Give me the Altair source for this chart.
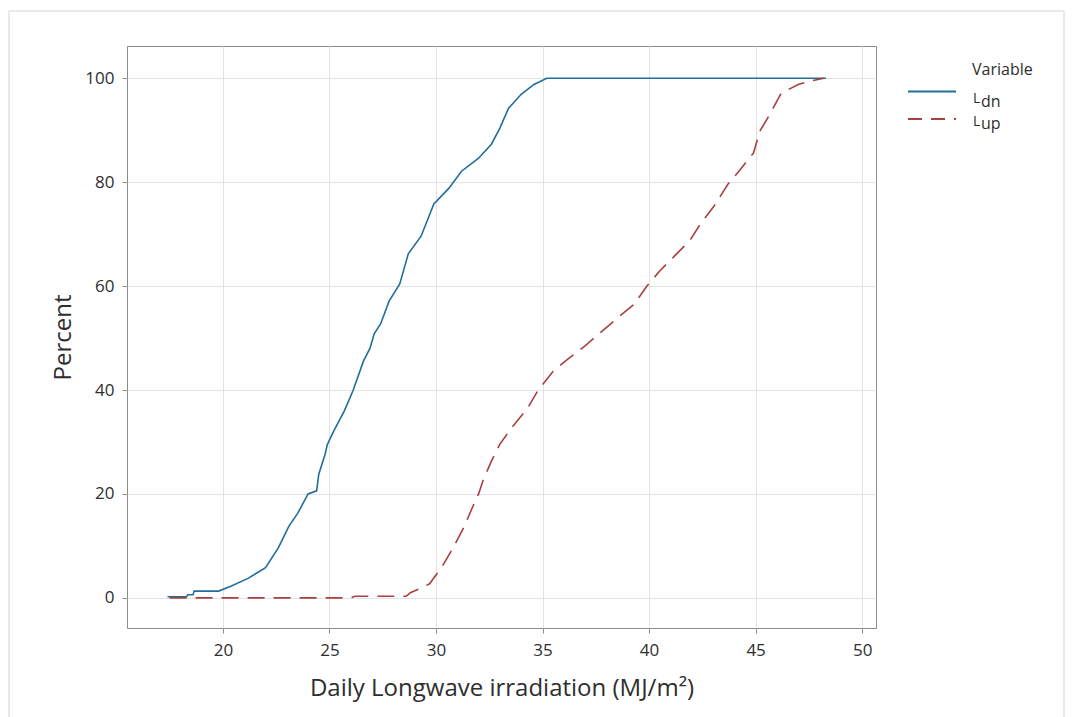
import altair as alt
import pandas as pd

ldn_x = [17.4, 18.3, 18.35, 18.6, 18.65, 19.8, 20.4, 21.2, 22.0, 22.6, 23.1, 23.5, 24.0, 24.4, 24.5,
         24.8, 24.9, 25.2, 25.7, 26.1, 26.6, 26.9, 27.1, 27.4, 27.8, 28.3, 28.7, 29.3, 29.9, 30.6,
         31.2, 32.0, 32.6, 33.0, 33.4, 34.0, 34.6, 35.2, 48.3]
ldn_y = [0.2, 0.2, 0.6, 0.6, 1.3, 1.3, 2.3, 3.8, 5.8, 9.6, 13.8, 16.2, 20.0, 20.6, 23.8,
         27.7, 29.5, 32.1, 36.0, 39.8, 45.6, 48.0, 50.8, 52.7, 57.1, 60.4, 66.2, 69.6, 75.8, 78.8,
         82.1, 84.6, 87.3, 90.4, 94.2, 96.9, 98.8, 100.0, 100.0]

lup_x = [17.5, 26.0, 26.2, 28.6, 28.8, 29.2, 29.7, 30.3, 30.8, 31.3, 31.7, 32.0, 32.2, 32.6, 33.0,
         33.6, 34.3, 34.8, 35.5, 36.2, 37.0, 37.7, 38.5, 39.3, 39.9, 40.5, 41.2, 41.9, 42.4, 43.05,
         43.7, 44.2, 44.9, 45.2, 45.7, 46.2, 47.0, 47.5, 48.2]
lup_y = [0.0, 0.0, 0.3, 0.3, 1.0, 1.7, 2.7, 6.1, 9.6, 13.5, 17.3, 20.0, 22.5, 26.3, 29.6,
         33.0, 36.5, 40.0, 43.6, 46.0, 48.5, 51.0, 53.8, 56.5, 60.0, 62.9, 65.8, 68.7, 71.9, 75.4,
         79.6, 82.0, 85.6, 89.8, 93.3, 97.1, 98.8, 99.4, 100.0]

x_ticks = [20, 25, 30, 35, 40, 45, 50]
y_ticks = [0, 20, 40, 60, 80, 100]

FONT = "Open Sans"
BLUE = "#1f6e9b"
RED = "#a8403f"
TXT = "#2e2e2e"

ldn = pd.DataFrame({"x": ldn_x, "y": ldn_y, "order": range(len(ldn_x))})
lup = pd.DataFrame({"x": lup_x, "y": lup_y, "order": range(len(lup_x))})

xscale = alt.Scale(domain=[15.5, 50.65], nice=False, zero=False)
yscale = alt.Scale(domain=[-5.8, 106.2], nice=False, zero=False)

xaxis = alt.Axis(values=x_ticks, title="Daily Longwave irradiation (MJ/m²)", format="d",
                 labelPadding=9, titlePadding=18)
yaxis = alt.Axis(values=y_ticks, title="Percent", format="d",
                 labelPadding=8, titlePadding=9)

blue = alt.Chart(ldn).mark_line(color=BLUE, strokeWidth=1.6).encode(
    x=alt.X("x:Q", scale=xscale, axis=xaxis),
    y=alt.Y("y:Q", scale=yscale, axis=yaxis),
    order="order:Q",
)
red = alt.Chart(lup).mark_line(color=RED, strokeWidth=1.6, strokeDash=[17, 9]).encode(
    x=alt.X("x:Q", scale=xscale),
    y=alt.Y("y:Q", scale=yscale),
    order="order:Q",
)

one = pd.DataFrame({"k": [0]})

outer = alt.Chart(one).mark_rect(fillOpacity=0, stroke="#d4d4d4", strokeWidth=1).encode(
    x=alt.value(-118), x2=alt.value(937), y=alt.value(-35), y2=alt.value(680)
)

leg_title = alt.Chart(one).mark_text(text="Variable", font=FONT, fontSize=16, color=TXT,
                                     align="left", baseline="middle").encode(
    x=alt.value(845), y=alt.value(24))
leg_blue = alt.Chart(one).mark_rule(color=BLUE, strokeWidth=1.8).encode(
    x=alt.value(781), x2=alt.value(829), y=alt.value(45.5))
leg_red = alt.Chart(one).mark_rule(color=RED, strokeWidth=1.8, strokeDash=[14, 9]).encode(
    x=alt.value(781), x2=alt.value(829), y=alt.value(73))
leg_L1 = alt.Chart(one).mark_text(text="L", font=FONT, fontSize=14, color=TXT,
                                  align="left", baseline="alphabetic").encode(
    x=alt.value(846), y=alt.value(57))
leg_dn = alt.Chart(one).mark_text(text="dn", font=FONT, fontSize=16, color=TXT,
                                  align="left", baseline="alphabetic").encode(
    x=alt.value(854), y=alt.value(61))
leg_L2 = alt.Chart(one).mark_text(text="L", font=FONT, fontSize=14, color=TXT,
                                  align="left", baseline="alphabetic").encode(
    x=alt.value(846), y=alt.value(80))
leg_up = alt.Chart(one).mark_text(text="up", font=FONT, fontSize=16, color=TXT,
                                  align="left", baseline="alphabetic").encode(
    x=alt.value(854), y=alt.value(83))

chart = alt.layer(
    outer, blue, red, leg_title, leg_blue, leg_red, leg_L1, leg_dn, leg_L2, leg_up
).properties(
    width=749, height=582,
    padding={"left": 8, "top": 10, "right": 0, "bottom": 0},
    background="white",
).configure_view(
    stroke="#8c8c8c", strokeWidth=1
).configure_axis(
    domain=False,
    grid=True,
    gridColor="#e2e2e2",
    gridWidth=1,
    ticks=True,
    tickColor="#8c8c8c",
    tickSize=5,
    labelFont=FONT,
    labelFontSize=17,
    labelColor=TXT,
    titleFont=FONT,
    titleFontSize=24,
    titleFontWeight="normal",
    titleColor=TXT,
)

chart.save("out.html", embed_options={"renderer": "svg", "actions": False})
